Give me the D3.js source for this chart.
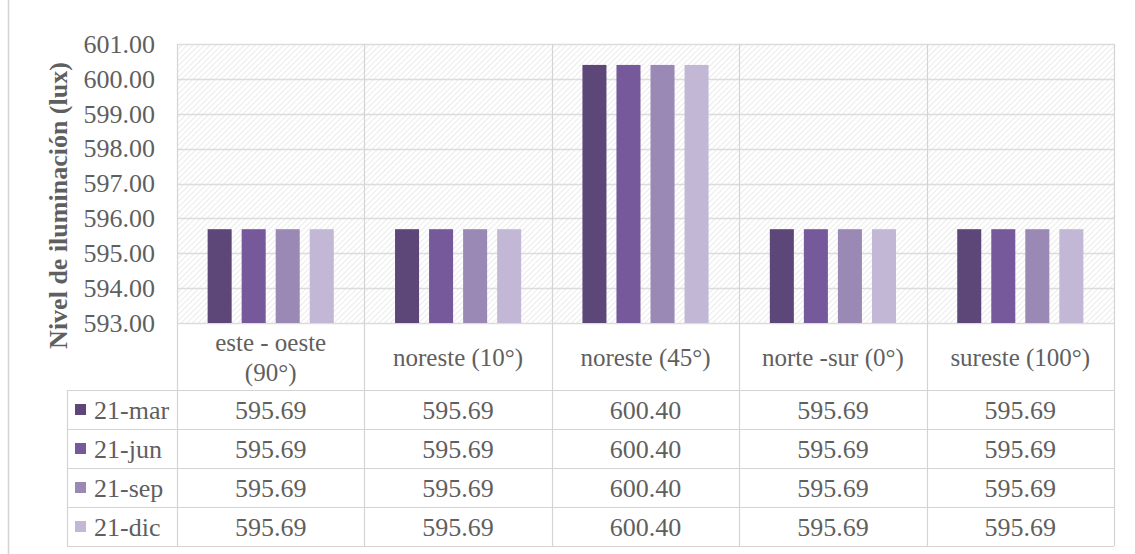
<!DOCTYPE html>
<html>
<head>
<meta charset="utf-8">
<script src="https://cdn.jsdelivr.net/npm/d3@7"></script>
<style>
  html, body { margin: 0; padding: 0; background: #fff; }
  svg { display: block; }
  svg text { font-family: 'Liberation Serif', 'Times New Roman', Times, 'DejaVu Serif', serif !important; }
</style>
</head>
<body>
<svg id="chart" width="1135" height="554"></svg>
<script>
const categories = ["este - oeste (90°)", "noreste (10°)", "noreste (45°)", "norte -sur (0°)", "sureste (100°)"];
const categoryLines = [["este - oeste", "(90°)"], ["noreste (10°)"], ["noreste (45°)"], ["norte -sur (0°)"], ["sureste (100°)"]];
const seriesNames = ["21-mar", "21-jun", "21-sep", "21-dic"];
const mar = [595.69, 595.69, 600.40, 595.69, 595.69];
const jun = [595.69, 595.69, 600.40, 595.69, 595.69];
const sep = [595.69, 595.69, 600.40, 595.69, 595.69];
const dic = [595.69, 595.69, 600.40, 595.69, 595.69];
const seriesValues = [mar, jun, sep, dic];
const colors = ["#5d4779", "#76599a", "#9b89b5", "#c2b8d5"];
const yTicks = [593, 594, 595, 596, 597, 598, 599, 600, 601];

const FONT = "'Liberation Serif', 'Times New Roman', serif";
const TXT = "#5f5f5f";
const svg = d3.select("#chart").style("font-family", FONT);
const pLeft = 177, pRight = 1114, pTop = 44, pBottom = 323;
const tableLeft = 67;
const headerBottom = 390, rowH = 39;

// pattern
const defs = svg.append("defs");
const pat = defs.append("pattern").attr("id", "hatch").attr("patternUnits", "userSpaceOnUse")
  .attr("width", 4).attr("height", 4).attr("patternTransform", "rotate(45)");
pat.append("rect").attr("width", 4).attr("height", 4).attr("fill", "#ffffff");
pat.append("line").attr("x1", 0).attr("y1", 0).attr("x2", 0).attr("y2", 4)
  .attr("stroke", "#e6e6e6").attr("stroke-width", 1.6);

// outer left frame line
svg.append("line").attr("x1", 8.5).attr("x2", 8.5).attr("y1", 0).attr("y2", 554)
  .attr("stroke", "#d4d4d4").attr("stroke-width", 1.5);

const x0 = d3.scaleBand().domain(categories).range([pLeft, pRight]).padding(0);
const x1 = d3.scaleBand().domain(seriesNames).range([0, x0.bandwidth()])
  .paddingInner(10 / 34).paddingOuter(0.9);
const y = d3.scaleLinear().domain([593, 601]).range([pBottom, pTop]);

// background hatch
svg.append("rect").attr("x", pLeft).attr("y", pTop).attr("width", pRight - pLeft).attr("height", pBottom - pTop)
  .attr("fill", "url(#hatch)");

// gridlines
svg.append("g").selectAll("line").data(yTicks).join("line")
  .attr("x1", pLeft).attr("x2", pRight)
  .attr("y1", d => Math.round(y(d)) + 0.5).attr("y2", d => Math.round(y(d)) + 0.5)
  .attr("stroke", "#dcdcdc").attr("stroke-width", 1.5);

// y axis labels
const yAxis = svg.append("g").attr("transform", `translate(${pLeft},0)`)
  .call(d3.axisLeft(y).tickValues(yTicks).tickFormat(d3.format(".2f")).tickSize(0).tickPadding(22));
yAxis.attr("font-family", FONT).attr("font-size", 26);
yAxis.select(".domain").remove();
yAxis.selectAll("text").attr("fill", TXT).style("font-family", FONT);

// y axis title
svg.append("text").attr("transform", `translate(67,${(pTop + pBottom) / 2 + 22}) rotate(-90)`)
  .attr("text-anchor", "middle").attr("font-size", 26).attr("font-weight", "bold")
  .style("font-family", FONT).attr("fill", TXT).text("Nivel de iluminación (lux)");

// bars
const groups = svg.append("g").selectAll("g").data(categories).join("g")
  .attr("transform", d => `translate(${x0(d)},0)`);
groups.selectAll("rect").data((d, ci) => seriesNames.map((s, si) => ({ s, si, v: seriesValues[si][ci] })))
  .join("rect")
  .attr("x", d => x1(d.s)).attr("width", x1.bandwidth())
  .attr("y", d => y(d.v)).attr("height", d => y(593) - y(d.v))
  .attr("fill", d => colors[d.si]);

// table lines
const gridColor = "#d4d4d4";
const tableBottom = headerBottom + rowH * seriesNames.length;
const lines = svg.append("g").attr("stroke", gridColor).attr("stroke-width", 1.2);
const vx = categories.map(c => x0(c)).concat([pRight]);
lines.selectAll("line.v").data(vx).join("line").attr("class", "v")
  .attr("x1", d => Math.round(d) + 0.5).attr("x2", d => Math.round(d) + 0.5)
  .attr("y1", pTop).attr("y2", tableBottom);
lines.append("line").attr("x1", tableLeft + 0.5).attr("x2", tableLeft + 0.5)
  .attr("y1", headerBottom).attr("y2", tableBottom);
const hy = d3.range(seriesNames.length + 1).map(i => headerBottom + i * rowH);
lines.selectAll("line.h").data(hy).join("line").attr("class", "h")
  .attr("x1", tableLeft).attr("x2", pRight)
  .attr("y1", d => d + 0.5).attr("y2", d => d + 0.5);

// category header labels
const hdr = svg.append("g").selectAll("text").data(categories).join("text")
  .attr("x", d => x0(d) + x0.bandwidth() / 2)
  .attr("text-anchor", "middle").attr("font-size", 25).attr("fill", TXT).style("font-family", FONT);
hdr.each(function (d, i) {
  const ls = categoryLines[i];
  const mid = (pBottom + headerBottom) / 2;
  const lh = 30;
  ls.forEach((t, k) => {
    d3.select(this).append("tspan").attr("x", x0(d) + x0.bandwidth() / 2)
      .attr("y", mid + (k - (ls.length - 1) / 2) * lh + 9).text(t);
  });
});

// legend rows
const rows = svg.append("g").selectAll("g").data(seriesNames).join("g")
  .attr("transform", (d, i) => `translate(0,${headerBottom + i * rowH})`);
rows.append("rect").attr("x", 75).attr("y", rowH / 2 - 5.5).attr("width", 11).attr("height", 11)
  .attr("fill", (d, i) => colors[i]);
rows.append("text").attr("x", 94).attr("y", rowH / 2 + 9).attr("font-size", 26)
  .attr("fill", TXT).style("font-family", FONT).text(d => d);
rows.each(function (s, si) {
  d3.select(this).selectAll("text.val").data(categories).join("text").attr("class", "val")
    .attr("x", c => x0(c) + x0.bandwidth() / 2).attr("y", rowH / 2 + 9)
    .attr("text-anchor", "middle").attr("font-size", 26).attr("fill", TXT).style("font-family", FONT)
    .text((c, ci) => seriesValues[si][ci].toFixed(2));
});
</script>
</body>
</html>
